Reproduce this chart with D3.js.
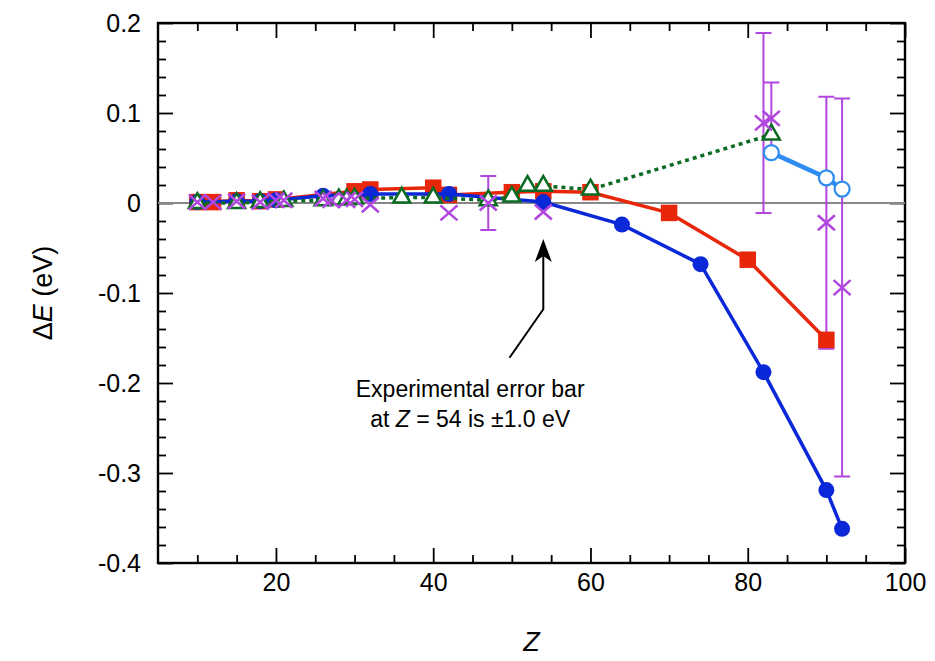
<!DOCTYPE html>
<meta charset="utf-8" />
<style>
  body { margin: 0; background: #fff; }
  text { font-family: "Liberation Sans", Arial, Helvetica, sans-serif; }
  .tick line { stroke: #000; stroke-width: 1.8px; }
  .tick text { font-size: 25px; fill: #000; }
</style>
<svg width="935" height="661"></svg>
<script src="https://d3js.org/d3.v7.min.js"></script>
<script>
  // dark blue, filled circles
  var zBlue = [10, 15, 18, 20, 26, 32, 42, 54, 64, 74, 82, 90, 92];
  var dBlue = [0.001, 0.002, 0.002, 0.003, 0.008, 0.010, 0.010, 0.001, -0.024, -0.068, -0.188, -0.319, -0.362];

  // red, filled squares
  var zRed = [10, 12, 15, 18, 20, 30, 32, 40, 42, 50, 54, 60, 70, 80, 90];
  var dRed = [0.001, 0.001, 0.003, 0.002, 0.004, 0.013, 0.015, 0.017, 0.009, 0.012, 0.013, 0.012, -0.011, -0.063, -0.152];

  // green, open triangles, dotted
  var zGreen = [10, 15, 18, 21, 26, 28, 29, 30, 36, 40, 47, 50, 52, 54, 60, 83];
  var dGreen = [0.0, 0.0, 0.001, 0.002, 0.003, 0.004, 0.004, 0.005, 0.006, 0.006, 0.003, 0.007, 0.019, 0.019, 0.015, 0.076];

  // light blue, open circles
  var zLight = [83, 90, 92];
  var dLight = [0.056, 0.028, 0.0155];

  // purple crosses (experiment), error bars where given
  var zExp = [10, 12, 15, 18, 20, 21, 26, 27, 29, 30, 32, 42, 47, 54, 82, 83, 90, 92];
  var dExp = [0.001, 0.001, 0.002, 0.001, 0.003, 0.003, 0.005, 0.003, 0.003, 0.004, -0.002, -0.011, 0.0, -0.010, 0.089, 0.094, -0.022, -0.094];
  var eExp = [0, 0, 0, 0, 0, 0, 0, 0, 0, 0, 0, 0, 0.03, 0, 0.1, 0.04, 0.14, 0.21];

  var xMajor = [20, 40, 60, 80, 100];
  var yMajor = [-0.4, -0.3, -0.2, -0.1, 0, 0.1, 0.2];

  var svg = d3.select("svg");
  var x = d3.scaleLinear().domain([5, 100]).range([158, 905]);
  var y = d3.scaleLinear().domain([-0.4, 0.2]).range([563, 23]);

  var xMinor = d3.range(10, 100, 5).filter(function (d) { return d % 20 !== 0; });
  var yMinor = d3.range(-0.38, 0.2, 0.02).filter(function (d) {
    return Math.abs(Math.round(d * 10) - d * 10) > 0.01;
  });
  var fmt = function (d) { return d === 0 ? "0" : d.toFixed(1); };

  var yBot = y.range()[0], yTop = y.range()[1], xLeft = x.range()[0], xRight = x.range()[1];

  function axisGroup(axis, tx, ty) {
    var g = svg.append("g").attr("transform", "translate(" + tx + "," + ty + ")").call(axis);
    g.select(".domain").remove();
    return g;
  }

  // major ticks with labels
  axisGroup(d3.axisBottom(x).tickValues(xMajor).tickSize(-15).tickPadding(10), 0, yBot);
  axisGroup(d3.axisLeft(y).tickValues(yMajor).tickFormat(fmt).tickSize(-15).tickPadding(17), xLeft, 0);
  axisGroup(d3.axisTop(x).tickValues(xMajor).tickSize(-15).tickFormat(""), 0, yTop);
  axisGroup(d3.axisRight(y).tickValues(yMajor).tickSize(-15).tickFormat(""), xRight, 0);
  // minor ticks
  axisGroup(d3.axisBottom(x).tickValues(xMinor).tickSize(-8).tickFormat(""), 0, yBot);
  axisGroup(d3.axisTop(x).tickValues(xMinor).tickSize(-8).tickFormat(""), 0, yTop);
  axisGroup(d3.axisLeft(y).tickValues(yMinor).tickSize(-8).tickFormat(""), xLeft, 0);
  axisGroup(d3.axisRight(y).tickValues(yMinor).tickSize(-8).tickFormat(""), xRight, 0);

  // frame
  svg.append("rect")
    .attr("x", xLeft).attr("y", yTop)
    .attr("width", xRight - xLeft).attr("height", yBot - yTop)
    .attr("fill", "none").attr("stroke", "#000").attr("stroke-width", 2.4);

  // zero line
  svg.append("line")
    .attr("x1", xLeft).attr("x2", xRight)
    .attr("y1", y(0)).attr("y2", y(0))
    .attr("stroke", "#888").attr("stroke-width", 2);

  function pts(zs, ds) {
    return zs.map(function (z, i) { return [z, ds[i]]; });
  }
  var line = d3.line().x(function (d) { return x(d[0]); }).y(function (d) { return y(d[1]); });
  var place = function (d) { return "translate(" + x(d[0]) + "," + y(d[1]) + ")"; };

  var purple = "#b247e0";

  // error bars
  var errs = pts(zExp, dExp).map(function (p, i) { return [p[0], p[1], eExp[i]]; })
    .filter(function (d) { return d[2] > 0; });
  var eb = svg.append("g").attr("stroke", purple).attr("stroke-width", 2).attr("fill", "none");
  errs.forEach(function (d) {
    var cx = x(d[0]), y1 = y(d[1] + d[2]), y2 = y(d[1] - d[2]);
    eb.append("path").attr("d",
      "M" + cx + "," + y1 + "V" + y2 +
      "M" + (cx - 8) + "," + y1 + "H" + (cx + 8) +
      "M" + (cx - 8) + "," + y2 + "H" + (cx + 8));
  });

  // red
  var red = "#e8260a";
  svg.append("path").attr("d", line(pts(zRed, dRed)))
    .attr("fill", "none").attr("stroke", red).attr("stroke-width", 3.5);
  svg.append("g").selectAll("path").data(pts(zRed, dRed)).enter().append("path")
    .attr("d", d3.symbol().type(d3.symbolSquare).size(272))
    .attr("transform", place)
    .attr("fill", red);

  // dark blue
  var blue = "#0a28d8";
  svg.append("path").attr("d", line(pts(zBlue, dBlue)))
    .attr("fill", "none").attr("stroke", blue).attr("stroke-width", 3.5);
  svg.append("g").selectAll("circle").data(pts(zBlue, dBlue)).enter().append("circle")
    .attr("cx", function (d) { return x(d[0]); })
    .attr("cy", function (d) { return y(d[1]); })
    .attr("r", 8).attr("fill", blue);

  // green
  var green = "#0c6b22";
  svg.append("path").attr("d", line(pts(zGreen, dGreen)))
    .attr("fill", "none").attr("stroke", green).attr("stroke-width", 3.5)
    .attr("stroke-dasharray", "4,4");
  svg.append("g").selectAll("path").data(pts(zGreen, dGreen)).enter().append("path")
    .attr("d", d3.symbol().type(d3.symbolTriangle).size(125))
    .attr("transform", place)
    .attr("fill", "#fff").attr("stroke", green).attr("stroke-width", 2.5);

  // light blue
  var light = "#2e8cf0";
  svg.append("path").attr("d", line(pts(zLight, dLight)))
    .attr("fill", "none").attr("stroke", light).attr("stroke-width", 4.5);
  svg.append("g").selectAll("circle").data(pts(zLight, dLight)).enter().append("circle")
    .attr("cx", function (d) { return x(d[0]); })
    .attr("cy", function (d) { return y(d[1]); })
    .attr("r", 7.5).attr("fill", "#fff").attr("stroke", light).attr("stroke-width", 2.2);

  // purple crosses
  svg.append("g").selectAll("path").data(pts(zExp, dExp)).enter().append("path")
    .attr("d", "M-8.5,-7.5L8.5,7.5M-8.5,7.5L8.5,-7.5")
    .attr("transform", place)
    .attr("fill", "none").attr("stroke", purple).attr("stroke-width", 2.6);

  // annotation arrow
  var tip = [x(54), y(-0.04)], kink = [x(54), y(-0.118)], tail = [x(49.7), y(-0.172)];
  svg.append("path")
    .attr("d", "M" + tail + "L" + kink + "L" + tip[0] + "," + (tip[1] + 10))
    .attr("fill", "none").attr("stroke", "#000").attr("stroke-width", 2);
  svg.append("path")
    .attr("d", "M" + tip[0] + "," + tip[1] +
      "L" + (tip[0] + 8.5) + "," + (tip[1] + 23) +
      "L" + tip[0] + "," + (tip[1] + 17) +
      "L" + (tip[0] - 8.5) + "," + (tip[1] + 23) + "Z")
    .attr("fill", "#000");

  var note = svg.append("text").attr("text-anchor", "middle").attr("font-size", 23).attr("fill", "#000");
  note.append("tspan").attr("x", x(44.7)).attr("y", y(-0.216)).text("Experimental error bar");
  var l2 = note.append("tspan").attr("x", x(44.7)).attr("y", y(-0.249));
  l2.append("tspan").text("at ");
  l2.append("tspan").attr("font-style", "italic").text("Z");
  l2.append("tspan").text(" = 54 is ±1.0 eV");

  // axis titles
  svg.append("text").attr("x", (xLeft + xRight) / 2).attr("y", 651)
    .attr("text-anchor", "middle").attr("font-size", 27).attr("font-style", "italic").text("Z");
  var yl = svg.append("text").attr("transform", "translate(52," + (yTop + yBot) / 2 + ") rotate(-90)")
    .attr("text-anchor", "middle").attr("font-size", 27);
  yl.append("tspan").text("Δ");
  yl.append("tspan").attr("font-style", "italic").text("E");
  yl.append("tspan").text(" (eV)");
</script>
